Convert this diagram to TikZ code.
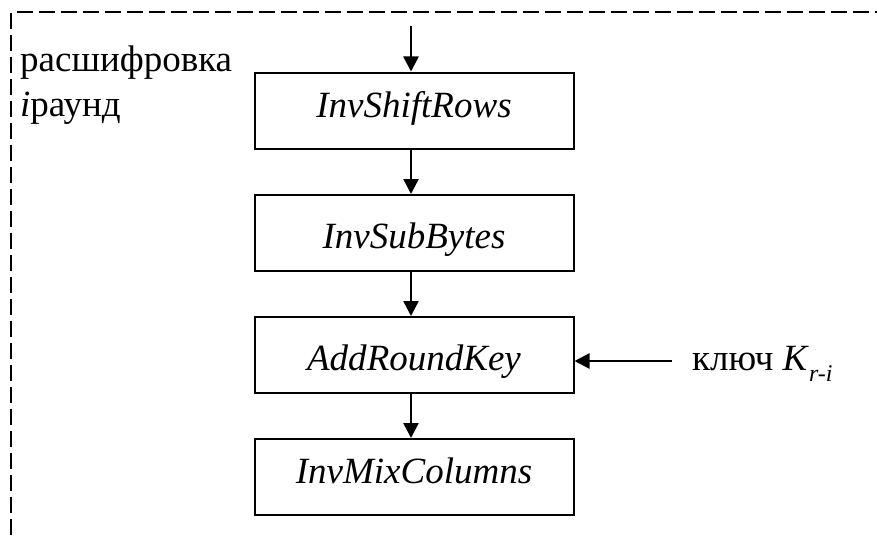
\documentclass[tikz,border=0pt]{standalone}
\usepackage{fontspec}
\setmainfont{Liberation Serif}
\usetikzlibrary{arrows.meta}
\begin{document}
\begin{tikzpicture}[x=1pt,y=-1pt,
  stage/.style={draw,line width=2pt,minimum width=319pt,minimum height=76pt,
    inner sep=0pt,text height=2*#1,text depth=0pt,
    font=\fontsize{37}{43}\selectfont\itshape},
  stage/.default=7pt,
  flow/.style={line width=2.4pt,-{Triangle[length=15pt,width=15pt]}},
  frame/.style={line width=2pt,dash pattern=on 16pt off 6pt}]
\useasboundingbox (0,0) rectangle (877,535);
% round frame, open to the right and below
\coordinate (fb) at (11,535);
\coordinate (fc) at (11,12.5);
\coordinate (fr) at (877,12.5);
\draw[frame] (fb) -- (fc) -- (fr);
\node[anchor=north west,align=left,inner sep=0pt,
  font=\fontsize{37}{45}\selectfont] (lbl) at (20,46)
  {расшифровка\\\textit{i}раунд};
% stages of the decryption round
\node[stage=7pt]  (s1) at (414,110.5) {InvShiftRows};
\node[stage=15pt] (s2) at (414,233) {InvSubBytes};
\node[stage=15pt] (s3) at (414,355) {AddRoundKey};
\node[stage=6pt]  (s4) at (414,477) {InvMixColumns};
\coordinate (in) at (411,26);
\draw[flow] (in) -- (in |- s1.north);
\draw[flow] (s1.south -| in) -- (s2.north -| in);
\draw[flow] (s2.south -| in) -- (s3.north -| in);
\draw[flow] (s3.south -| in) -- (s4.north -| in);
% round key input
\node[anchor=base west,inner sep=0pt,font=\fontsize{37}{43}\selectfont] (key) at (692,370)
  {ключ \textit{K}\raisebox{-0.3em}{\fontsize{24}{24}\selectfont\itshape r-i}};
\coordinate (ks) at (672,361);
\draw[flow] (ks) -- (ks -| s3.east);
\end{tikzpicture}
\end{document}
